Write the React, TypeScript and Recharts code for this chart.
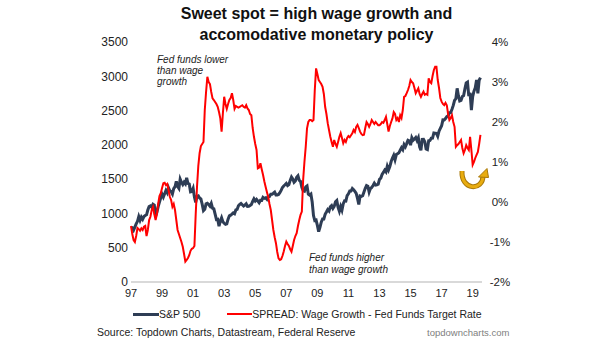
import React from 'react';
import { LineChart, Line, XAxis, YAxis } from 'recharts';

const START_YEAR = 1997;

// S&P 500 month-end level, Jan 1997 .. Jul 2019 (one row per year)
const sp500ByYear: number[][] = [
  [786, 791, 757, 801, 848, 885, 954, 899, 947, 915, 955, 970],
  [980, 1049, 1102, 1112, 1091, 1134, 1121, 957, 1017, 1099, 1164, 1229],
  [1280, 1238, 1286, 1335, 1302, 1373, 1329, 1320, 1283, 1363, 1389, 1469],
  [1394, 1366, 1499, 1452, 1421, 1455, 1431, 1518, 1437, 1429, 1315, 1320],
  [1366, 1240, 1160, 1249, 1256, 1224, 1211, 1134, 1041, 1060, 1139, 1148],
  [1130, 1107, 1147, 1077, 1067, 990, 912, 916, 815, 886, 936, 880],
  [856, 841, 848, 917, 964, 975, 990, 1008, 996, 1051, 1058, 1112],
  [1131, 1145, 1126, 1107, 1121, 1141, 1102, 1104, 1115, 1130, 1174, 1212],
  [1181, 1204, 1181, 1157, 1192, 1191, 1234, 1220, 1229, 1207, 1249, 1248],
  [1280, 1281, 1295, 1311, 1270, 1270, 1277, 1304, 1336, 1378, 1401, 1418],
  [1438, 1407, 1421, 1482, 1531, 1503, 1455, 1474, 1527, 1549, 1481, 1468],
  [1379, 1331, 1323, 1386, 1400, 1280, 1267, 1283, 1166, 969, 896, 903],
  [826, 735, 798, 873, 919, 919, 987, 1021, 1057, 1036, 1096, 1115],
  [1074, 1104, 1169, 1187, 1089, 1031, 1102, 1049, 1141, 1183, 1181, 1258],
  [1286, 1327, 1326, 1364, 1345, 1321, 1292, 1219, 1131, 1253, 1247, 1258],
  [1312, 1366, 1408, 1398, 1310, 1362, 1379, 1407, 1441, 1412, 1416, 1426],
  [1498, 1515, 1569, 1598, 1631, 1606, 1686, 1633, 1682, 1757, 1806, 1848],
  [1783, 1859, 1872, 1884, 1924, 1960, 1931, 2003, 1972, 2018, 2068, 2059],
  [1995, 2105, 2068, 2086, 2107, 2063, 2104, 1972, 1920, 2079, 2080, 2044],
  [1940, 1932, 2060, 2065, 2097, 2099, 2174, 2171, 2168, 2126, 2199, 2239],
  [2279, 2364, 2363, 2384, 2412, 2423, 2470, 2472, 2519, 2575, 2648, 2674],
  [2824, 2714, 2641, 2648, 2705, 2718, 2816, 2902, 2914, 2712, 2760, 2507],
  [2704, 2784, 2834, 2946, 2752, 2942, 2980],
];

// SPREAD: wage growth minus Fed funds target rate, % (one row per year)
const spreadByYear: number[][] = [
  [-0.6, -0.8, -0.95, -1.0, -0.85, -0.65, -0.68, -0.72, -0.66, -0.7, -0.62, -0.6],
  [-0.85, -0.7, -0.45, -0.37, -0.2, -0.12, -0.3, -0.45, -0.3, -0.05, 0.15, 0.22],
  [0.35, 0.47, 0.48, 0.42, 0.45, 0.3, 0.13, 0.05, -0.12, -0.05, -0.2, -0.45],
  [-0.7, -0.8, -0.9, -1.0, -1.12, -1.3, -1.49, -1.45, -1.4, -1.33, -1.22, -1.17],
  [-1.15, -1.1, -0.3, 0.38, 0.9, 1.22, 1.4, 1.45, 1.5, 2.3, 2.75, 3.13],
  [3.0, 2.95, 2.75, 2.59, 2.55, 2.5, 2.45, 2.38, 2.25, 2.09, 1.76, 2.22],
  [2.63, 2.45, 2.33, 2.45, 2.55, 2.6, 2.72, 2.55, 2.33, 2.4, 2.38, 2.36],
  [2.38, 2.4, 2.42, 2.38, 2.36, 2.42, 2.34, 2.3, 2.2, 2.17, 1.85, 1.63],
  [1.45, 1.3, 0.84, 0.86, 0.97, 0.82, 0.68, 0.52, 0.38, 0.25, 0.13, -0.05],
  [-0.2, -0.45, -0.7, -0.88, -1.03, -1.25, -1.41, -1.45, -1.43, -1.35, -1.24, -1.1],
  [-0.99, -1.05, -1.1, -1.18, -1.24, -1.1, -0.95, -0.85, -0.78, -0.6, -0.45, -0.32],
  [-0.24, 0.55, 1.0, 1.38, 1.84, 2.0, 2.05, 2.05, 2.02, 2.05, 2.8, 3.34],
  [3.2, 3.05, 3.0, 2.95, 2.88, 2.7, 2.38, 2.2, 1.97, 1.8, 1.63, 1.5],
  [1.38, 1.55, 1.45, 1.38, 1.5, 1.63, 1.72, 1.6, 1.47, 1.55, 1.5, 1.6],
  [1.65, 1.62, 1.67, 1.72, 1.8, 1.75, 1.88, 1.93, 1.85, 1.76, 1.7, 1.67],
  [1.68, 1.85, 2.0, 1.95, 1.88, 1.95, 2.05, 2.0, 1.95, 2.0, 1.96, 1.92],
  [1.92, 1.95, 2.0, 1.98, 2.05, 2.13, 1.95, 1.76, 1.9, 2.0, 2.09, 2.25],
  [2.2, 2.05, 2.1, 2.0, 2.17, 2.1, 2.3, 2.63, 2.65, 2.72, 2.8, 2.9],
  [3.05, 3.0, 2.97, 2.85, 2.72, 2.78, 2.84, 2.7, 2.63, 2.7, 2.76, 2.68],
  [2.7, 2.68, 3.09, 3.0, 2.97, 3.15, 3.3, 3.38, 3.38, 3.05, 2.85, 2.6],
  [2.51, 2.45, 2.42, 2.48, 2.42, 2.2, 2.05, 2.1, 2.17, 2.0, 1.88, 1.38],
  [1.42, 1.45, 1.5, 1.55, 1.35, 1.22, 1.3, 1.42, 1.35, 1.3, 1.63, 1.3],
  [0.93, 1.0, 1.1, 1.18, 1.25, 1.45, 1.68],
];

const xTicks = [1997, 1999, 2001, 2003, 2005, 2007, 2009, 2011, 2013, 2015, 2017, 2019];
const leftTicks = [0, 500, 1000, 1500, 2000, 2500, 3000, 3500];
const rightTicks = [-2, -1, 0, 1, 2, 3, 4];

const titleLines = ['Sweet spot = high wage growth and', 'accomodative monetary policy'];
const seriesNames = ['S&P 500', 'SPREAD: Wage Growth - Fed Funds Target Rate'];
const noteLower = ['Fed funds lower', 'than wage', 'growth'];
const noteHigher = ['Fed funds higher', 'than wage growth'];
const sourceText = 'Source: Topdown Charts, Datastream, Federal Reserve';
const watermark = 'topdowncharts.com';

const sp500 = sp500ByYear.flat();
const spread = spreadByYear.flat();
const data = sp500.map((v, i) => ({ t: START_YEAR + i / 12, sp: v, spread: spread[i] }));

const NAVY = '#2E3D55';
const RED = '#FF0000';
const FONT = '"Liberation Sans", Arial, sans-serif';

const RightTick = (props: any) => {
  const { x, y, payload } = props;
  return (
    <text x={x + 18} y={y} dy="0.355em" textAnchor="middle" fontSize={11.5} fill="#222" fontFamily={FONT}>
      {`${payload.value}%`}
    </text>
  );
};

export default function App() {
  const tickStyle = { fontSize: 11, fill: '#222', fontFamily: FONT };
  return (
    <div style={{ position: 'absolute', left: 0, top: 0, width: 605, height: 341, background: '#fff', fontFamily: FONT, color: '#222' }}>
      <div style={{ position: 'absolute', left: 0, width: 633, top: 3, textAlign: 'center', fontWeight: 'bold', fontSize: 16, lineHeight: '21px', color: '#111' }}>
        {titleLines.map((l) => (<div key={l}>{l}</div>))}
      </div>
      <LineChart width={605} height={341} data={data} margin={{ top: 42, right: 63, bottom: 29, left: 71 }}>
        <XAxis
          dataKey="t"
          type="number"
          domain={[1997, 2019.6]}
          ticks={xTicks}
          tickFormatter={(v: number) => String(v).slice(2)}
          axisLine={{ stroke: '#d9d9d9', strokeWidth: 2 }}
          tickLine={false}
          tickSize={0}
          tickMargin={7}
          tick={tickStyle}
          height={30}
        />
        <YAxis
          yAxisId="left"
          domain={[0, 3500]}
          ticks={leftTicks}
          axisLine={false}
          tickLine={false}
          tickSize={0}
          tickMargin={3}
          tick={{ ...tickStyle, fontSize: 12 }}
          width={60}
        />
        <YAxis
          yAxisId="right"
          orientation="right"
          domain={[-2, 4]}
          ticks={rightTicks}
          axisLine={false}
          tickLine={false}
          tickSize={0}
          tickMargin={0}
          tick={<RightTick />}
          width={60}
        />
        <Line yAxisId="left" dataKey="sp" stroke={NAVY} strokeWidth={3} dot={false} isAnimationActive={false} />
        <Line yAxisId="right" dataKey="spread" stroke={RED} strokeWidth={2} dot={false} isAnimationActive={false} />
      </LineChart>
      <div style={{ position: 'absolute', left: 157, top: 54, fontStyle: 'italic', fontSize: 10, lineHeight: '11px' }}>
        {noteLower.map((l) => (<div key={l}>{l}</div>))}
      </div>
      <div style={{ position: 'absolute', left: 309, top: 252, fontStyle: 'italic', fontSize: 10, lineHeight: '12px' }}>
        {noteHigher.map((l) => (<div key={l}>{l}</div>))}
      </div>
      <svg style={{ position: 'absolute', left: 0, top: 0 }} width={605} height={341}>
        <path d="M462,171 C461,191 483,191 483,176" fill="none" stroke="#A8780A" strokeWidth={5} />
        <path d="M462,171 C461,191 483,191 483,176" fill="none" stroke="#E8AC10" strokeWidth={3} />
        <polygon points="478.5,177 487,168.5 488.5,177.5" fill="#E8AC10" stroke="#A8780A" strokeWidth={1} />
      </svg>
      <div style={{ position: 'absolute', left: 133, top: 307, fontSize: 10.5, lineHeight: '14px', display: 'flex', alignItems: 'center' }}>
        <span style={{ display: 'inline-block', width: 26, height: 3, background: NAVY }} />
        <span style={{ marginRight: 27 }}>{seriesNames[0]}</span>
        <span style={{ display: 'inline-block', width: 25, height: 2, background: RED }} />
        <span>{seriesNames[1]}</span>
      </div>
      <div style={{ position: 'absolute', left: 97, top: 325, fontSize: 10.5, lineHeight: '14px' }}>{sourceText}</div>
      <div style={{ position: 'absolute', left: 427, top: 326, fontSize: 9.5, lineHeight: '13px', color: '#808080' }}>{watermark}</div>
    </div>
  );
}
